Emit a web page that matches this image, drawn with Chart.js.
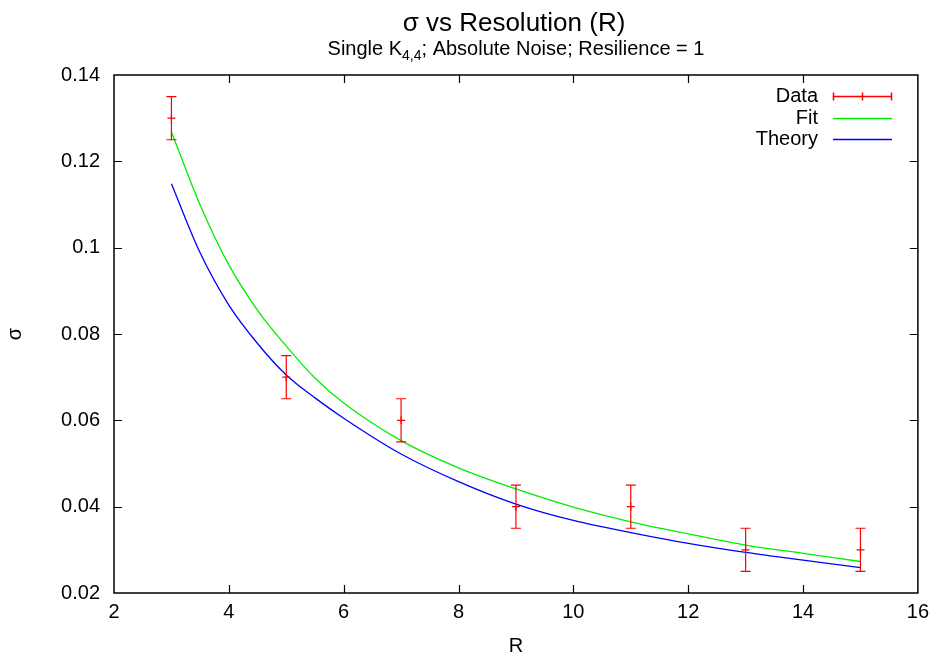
<!DOCTYPE html>
<html>
<head>
<meta charset="utf-8">
<script src="https://cdn.jsdelivr.net/npm/chart.js@4"></script>
<style>
  html, body { margin: 0; padding: 0; background: #fff; }
  #wrap { width: 936px; height: 658px; }
</style>
</head>
<body>
<div id="wrap"><canvas id="chart" width="936" height="658"></canvas></div>
<script>
// measured points with error bars
const rData = [3, 5, 7, 9, 11, 13, 15];
const sigmaData = [0.13, 0.07, 0.06, 0.04, 0.04, 0.03, 0.03];
const sigmaErr = [0.005, 0.005, 0.005, 0.005, 0.005, 0.005, 0.005];

// curves
const rCurve = [3, 3.5, 4, 4.5, 5, 5.5, 6, 7, 8, 9, 10, 11, 12, 13, 14, 15];
const fitSigma = [0.1268, 0.1099, 0.0960, 0.0855, 0.0772, 0.0698, 0.0640, 0.0553, 0.0490, 0.0441, 0.0399, 0.0365, 0.0337, 0.0311, 0.0292, 0.0273];
const theorySigma = [0.1148, 0.0988, 0.0867, 0.0778, 0.0705, 0.0652, 0.0605, 0.0522, 0.0458, 0.0406, 0.0368, 0.0340, 0.0315, 0.0294, 0.0276, 0.0259];

// axis ticks
const xTicks = [2, 4, 6, 8, 10, 12, 14, 16];
const yTicks = [0.02, 0.04, 0.06, 0.08, 0.1, 0.12, 0.14];

const FONT = '"Liberation Sans", Arial, Helvetica, sans-serif';
const RED = '#ff0000';
const GREEN = '#00ee00';
const BLUE = '#0000ff';

const toPoints = (xs, ys) => xs.map((x, i) => ({ x: x, y: ys[i] }));

// error bars, frame with inward ticks, titles and gnuplot style key
const gnuplotLook = {
    id: 'gnuplotLook',
    afterDatasetsDraw(chart) {
        const ctx = chart.ctx;
        const xs = chart.scales.x, ys = chart.scales.y;
        const a = chart.chartArea;

        // error bars
        ctx.save();
        ctx.strokeStyle = RED;
        ctx.lineWidth = 1.2;
        rData.forEach((r, i) => {
            const px = xs.getPixelForValue(r);
            const top = ys.getPixelForValue(sigmaData[i] + sigmaErr[i]);
            const bot = ys.getPixelForValue(sigmaData[i] - sigmaErr[i]);
            ctx.beginPath();
            ctx.moveTo(px, top); ctx.lineTo(px, bot);
            ctx.moveTo(px - 5, top); ctx.lineTo(px + 5, top);
            ctx.moveTo(px - 5, bot); ctx.lineTo(px + 5, bot);
            ctx.stroke();
        });
        ctx.restore();

        // frame + mirrored inward ticks
        ctx.save();
        ctx.strokeStyle = '#000';
        ctx.lineWidth = 1.5;
        ctx.strokeRect(a.left, a.top, a.right - a.left, a.bottom - a.top);
        ctx.lineWidth = 1.2;
        ctx.beginPath();
        const tl = 8;
        xTicks.slice(1, -1).forEach(v => {
            const p = Math.round(xs.getPixelForValue(v)) + 0.5;
            ctx.moveTo(p, a.bottom); ctx.lineTo(p, a.bottom - tl);
            ctx.moveTo(p, a.top); ctx.lineTo(p, a.top + tl);
        });
        yTicks.slice(1, -1).forEach(v => {
            const p = Math.round(ys.getPixelForValue(v)) + 0.5;
            ctx.moveTo(a.left, p); ctx.lineTo(a.left + tl, p);
            ctx.moveTo(a.right, p); ctx.lineTo(a.right - tl, p);
        });
        ctx.stroke();
        ctx.restore();

        // titles
        ctx.save();
        ctx.fillStyle = '#000';
        ctx.textBaseline = 'alphabetic';
        ctx.textAlign = 'center';
        ctx.font = '26px ' + FONT;
        ctx.fillText('\u03c3 vs Resolution (R)', 514, 31);

        // subtitle with subscript
        const big = '20px ' + FONT, small = '14px ' + FONT;
        const parts = [
            { t: 'Single K', f: big, dy: 0 },
            { t: '4,4', f: small, dy: 5 },
            { t: '; Absolute Noise; Resilience = 1', f: big, dy: 0 }
        ];
        let w = 0;
        parts.forEach(p => { ctx.font = p.f; w += ctx.measureText(p.t).width; });
        let x = 516 - w / 2;
        ctx.textAlign = 'left';
        parts.forEach(p => {
            ctx.font = p.f;
            ctx.fillText(p.t, x, 55 + p.dy);
            x += ctx.measureText(p.t).width;
        });

        // key
        ctx.font = '20px ' + FONT;
        ctx.textAlign = 'right';
        ctx.textBaseline = 'middle';
        const keys = [
            { label: 'Data', color: RED, bars: true },
            { label: 'Fit', color: GREEN },
            { label: 'Theory', color: BLUE }
        ];
        keys.forEach((k, i) => {
            const y = Math.round(96 + i * 21.5) + 0.5;
            ctx.fillStyle = '#000';
            ctx.fillText(k.label, 818, y);
            ctx.strokeStyle = k.color;
            ctx.lineWidth = 1.5;
            ctx.beginPath();
            ctx.moveTo(833, y); ctx.lineTo(892, y);
            if (k.bars) {
                ctx.moveTo(833.5, y - 4); ctx.lineTo(833.5, y + 4);
                ctx.moveTo(891.5, y - 4); ctx.lineTo(891.5, y + 4);
                ctx.moveTo(862.5, y - 4); ctx.lineTo(862.5, y + 4);
            }
            ctx.stroke();
        });
        ctx.restore();
    }
};

new Chart(document.getElementById('chart'), {
    type: 'line',
    data: {
        datasets: [
            {
                label: 'Data',
                data: toPoints(rData, sigmaData),
                showLine: false,
                pointStyle: 'cross',
                pointRadius: 4,
                borderColor: RED,
                borderWidth: 1.2
            },
            {
                label: 'Fit',
                data: toPoints(rCurve, fitSigma),
                borderColor: GREEN,
                borderWidth: 1.3,
                pointRadius: 0,
                cubicInterpolationMode: 'monotone'
            },
            {
                label: 'Theory',
                data: toPoints(rCurve, theorySigma),
                borderColor: BLUE,
                borderWidth: 1.3,
                pointRadius: 0,
                cubicInterpolationMode: 'monotone'
            }
        ]
    },
    options: {
        responsive: false,
        animation: false,
        devicePixelRatio: 1,
        layout: { padding: { top: 75, right: 18, bottom: 0, left: 0 } },
        plugins: {
            legend: { display: false },
            title: { display: false },
            tooltip: { enabled: false }
        },
        scales: {
            x: {
                type: 'linear',
                min: 2, max: 16,
                afterBuildTicks: s => { s.ticks = xTicks.map(v => ({ value: v })); },
                afterFit: s => { s.height = 65; },
                grid: { display: false, drawTicks: false },
                border: { display: false },
                ticks: { color: '#000', padding: 7, font: { family: FONT, size: 20 }, maxRotation: 0 },
                title: { display: true, text: 'R', color: '#000', font: { family: FONT, size: 20 }, padding: 0 }
            },
            y: {
                type: 'linear',
                min: 0.02, max: 0.14,
                afterBuildTicks: s => { s.ticks = yTicks.map(v => ({ value: v })); },
                afterFit: s => { s.width = 114; },
                grid: { display: false, drawTicks: false },
                border: { display: false },
                ticks: {
                    color: '#000', padding: 14, font: { family: FONT, size: 20 },
                    callback: v => String(+v.toFixed(2))
                },
                title: { display: true, text: '\u03c3', color: '#000', font: { family: FONT, size: 20 }, padding: { top: 3, bottom: 0 } }
            }
        }
    },
    plugins: [gnuplotLook]
});
</script>
</body>
</html>
